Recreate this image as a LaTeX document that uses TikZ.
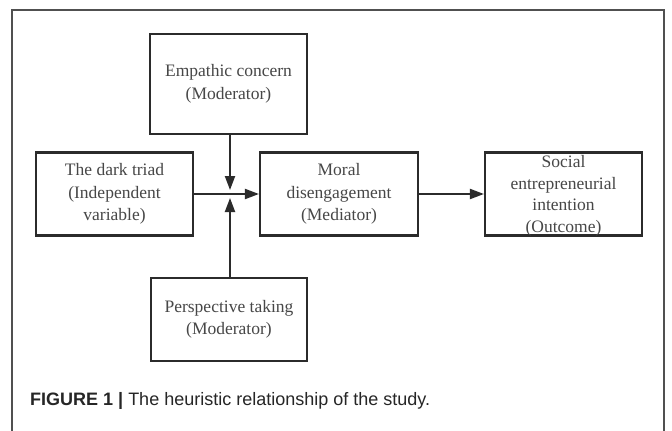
\documentclass[tikz,border=0pt]{standalone}
\usepackage{fontspec}
\setmainfont{Liberation Serif}
\newfontfamily\capfont{Liberation Sans}
\usetikzlibrary{arrows.meta}
\definecolor{boxline}{HTML}{2B2B2B}
\definecolor{boxtext}{HTML}{474747}
\definecolor{framecol}{HTML}{505050}
\tikzset{
  varbox/.style={draw=boxline, line width=2.1pt, text=boxtext, align=center,
    inner sep=0pt, font=\fontsize{17.5}{22.5}\selectfont},
  conn/.style={draw=boxline, line width=2pt, -{Triangle[length=14pt,width=10pt]}},
}
\begin{document}
\begin{tikzpicture}[x=1pt,y=-1pt]
\useasboundingbox (0,0) rectangle (672,431);
\fill[white] (0,0) rectangle (672,431);
% outer frame (open at bottom)
\draw[framecol, line width=1.3pt] (12,431) -- (12,10) -- (664,10) -- (664,431);
% boxes
\node[varbox, minimum width=157pt, minimum height=100pt] (emp) at (228.5,84) {Empathic concern\\(Moderator)};
\node[varbox, minimum width=157pt, minimum height=83pt] (dark) at (114.5,194) {The dark triad\\(Independent\\variable)};
\node[varbox, minimum width=158pt, minimum height=83pt] (moral) at (339,194) {Moral\\disengagement\\(Mediator)};
\node[varbox, minimum width=157pt, minimum height=83pt] (soc) at (563.5,194) {};
\node[text=boxtext, align=center, font=\fontsize{17.5}{21.5}\selectfont, inner sep=0pt] (soctext) at (563.5,196) {Social\\entrepreneurial\\intention\\(Outcome)};
\node[varbox, minimum width=156pt, minimum height=83pt] (persp) at (229,319.5) {Perspective taking\\(Moderator)};
% junction coordinates
\coordinate (jtop) at (230,190);
\coordinate (jbot) at (230,198);
% connectors
\draw[conn] (dark.east) -- (moral.west);
\draw[conn] (emp.south -| jtop) -- (jtop);
\draw[conn] (persp.north -| jbot) -- (jbot);
\draw[conn] (moral.east) -- (soc.west);
% caption
\node[anchor=west, inner sep=0pt, text=black!85, font=\capfont\fontsize{18}{20}\selectfont] (cap) at (30,401) {\textbf{FIGURE 1 |} The heuristic relationship of the study.};
\end{tikzpicture}
\end{document}
